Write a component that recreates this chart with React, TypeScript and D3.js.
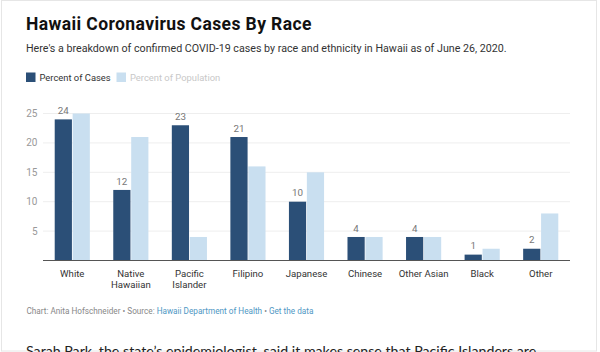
import React, { useRef, useEffect } from "react";
import * as d3 from "d3";

const categories = ["White", "Native\nHawaiian", "Pacific\nIslander", "Filipino", "Japanese", "Chinese", "Other Asian", "Black", "Other"];
const casesPct = [24, 12, 23, 21, 10, 4, 4, 1, 2];
const populationPct = [25, 21, 4, 16, 15, 4, 4, 2, 8];
const yTicks = [5, 10, 15, 20, 25];

const DARK = "#2b4f77";
const LIGHT = "#c9dff0";

const App = () => {
    const ref = useRef<SVGSVGElement>(null);
    const width = 600;
    const height = 352;

    useEffect(() => {
        const svg = d3.select(ref.current);
        svg.selectAll("*").remove();

        // faint frame round the embed
        svg.append("rect")
            .attr("x", 1.5).attr("y", 0.5)
            .attr("width", 595).attr("height", 350.5)
            .style("fill", "none")
            .style("stroke", "#e6e6e6");

        svg.append("text")
            .attr("x", 26).attr("y", 30)
            .style("font", "bold 17.5px Roboto")
            .style("letter-spacing", "0.4px")
            .style("fill", "#111")
            .text("Hawaii Coronavirus Cases By Race");

        svg.append("text")
            .attr("x", 26).attr("y", 51.7)
            .style("font", "10.7px Roboto")
            .style("fill", "#333")
            .text("Here's a breakdown of confirmed COVID-19 cases by race and ethnicity in Hawaii as of June 26, 2020.");

        // legend
        const legend = [
            { label: "Percent of Cases", color: DARK, text: "#333", x: 26 },
            { label: "Percent of Population", color: LIGHT, text: "#c8c8c8", x: 116.5 },
        ];
        legend.forEach(l => {
            svg.append("rect")
                .attr("x", l.x).attr("y", 72.5)
                .attr("width", 9.5).attr("height", 9.5)
                .style("fill", l.color);
            svg.append("text")
                .attr("x", l.x + 13.5).attr("y", 81)
                .style("font", "9.4px Roboto")
                .style("fill", l.text)
                .text(l.label);
        });

        const x = d3.scaleBand()
            .domain(categories)
            .range([43, 570])
            .paddingInner(0.4)
            .paddingOuter(0.2);

        const x1 = d3.scaleBand()
            .domain(["cases", "pop"])
            .range([0, x.bandwidth()])
            .paddingInner(0.04);

        const y = d3.scaleLinear()
            .domain([0, 25])
            .range([260.5, 113.5]);

        // gridlines
        svg.append("g")
            .selectAll("line")
            .data(yTicks)
            .enter()
            .append("line")
            .attr("x1", 43).attr("x2", 570)
            .attr("y1", d => y(d)).attr("y2", d => y(d))
            .style("stroke", "#eeeeee");

        svg.append("g")
            .selectAll("text")
            .data(yTicks)
            .enter()
            .append("text")
            .attr("x", 37.5)
            .attr("y", d => y(d) + 3.5)
            .attr("text-anchor", "end")
            .style("font", "10px Roboto")
            .style("fill", "#999")
            .text(d => d);

        const groups = svg.append("g")
            .selectAll("g")
            .data(categories)
            .enter()
            .append("g")
            .attr("transform", d => `translate(${x(d)}, 0)`);

        groups.append("rect")
            .attr("x", x1("cases"))
            .attr("width", x1.bandwidth())
            .attr("y", (d, i) => y(casesPct[i]))
            .attr("height", (d, i) => y(0) - y(casesPct[i]))
            .style("fill", DARK);

        groups.append("rect")
            .attr("x", x1("pop"))
            .attr("width", x1.bandwidth())
            .attr("y", (d, i) => y(populationPct[i]))
            .attr("height", (d, i) => y(0) - y(populationPct[i]))
            .style("fill", LIGHT);

        groups.append("text")
            .attr("x", x1("cases") + x1.bandwidth() / 2)
            .attr("y", (d, i) => y(casesPct[i]) - 5.3)
            .attr("text-anchor", "middle")
            .style("font", "9.8px Roboto")
            .style("fill", "#777")
            .text((d, i) => casesPct[i]);

        // category labels
        groups.append("text")
            .attr("text-anchor", "middle")
            .style("font", "9.6px Roboto")
            .style("fill", "#333")
            .selectAll("tspan")
            .data(d => d.split("\n"))
            .enter()
            .append("tspan")
            .attr("x", x.bandwidth() / 2)
            .attr("y", (d, i) => 277.3 + i * 10.5)
            .text(d => d);

        // axis baseline
        svg.append("line")
            .attr("x1", 43).attr("x2", 570)
            .attr("y1", y(0)).attr("y2", y(0))
            .style("stroke", "#555");

        const foot = svg.append("text")
            .attr("x", 26.5).attr("y", 313.5)
            .style("font", "8.2px Roboto")
            .style("fill", "#888");
        foot.append("tspan").text("Chart: Anita Hofschneider • Source: ");
        foot.append("tspan").style("fill", "#4f97c4").text("Hawaii Department of Health");
        foot.append("tspan").text(" • ");
        foot.append("tspan").style("fill", "#4f97c4").text("Get the data");

        svg.append("text")
            .attr("x", 26).attr("y", 356)
            .style("font", "14.2px Lato")
            .style("fill", "#222")
            .text("Sarah Park, the state’s epidemiologist, said it makes sense that Pacific Islanders are");
    }, []);

    return (
        <div style={{ position: "absolute", left: 0, top: 0 }}>
            <svg ref={ref} width={width} height={height} style={{ display: "block", background: "#fff" }}></svg>
        </div>
    );
};

export default App;
